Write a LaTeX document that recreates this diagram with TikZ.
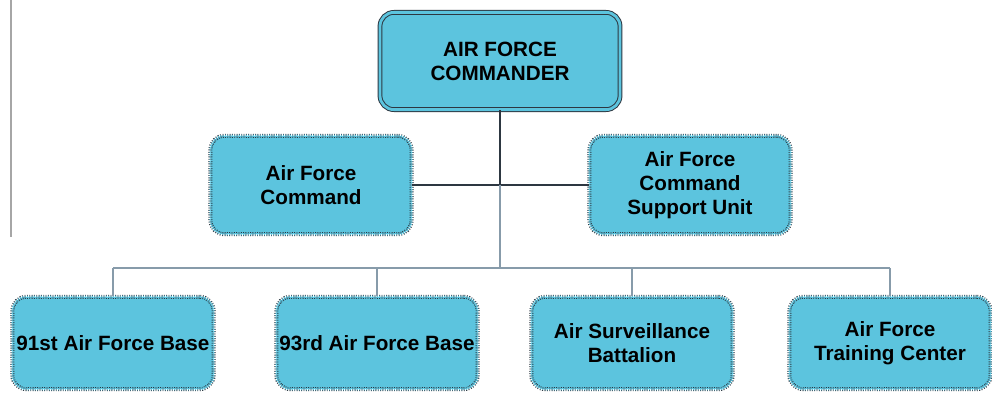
\documentclass[tikz,border=0pt]{standalone}
\usepackage{fontspec}
\setmainfont{Liberation Sans}
\usetikzlibrary{calc}
\definecolor{boxblue}{RGB}{92,196,222}
\definecolor{edgegray}{RGB}{45,55,65}
\definecolor{busgray}{RGB}{135,155,170}

\begin{document}
\begin{tikzpicture}[x=0.025cm,y=-0.025cm,
		unit/.style={draw=edgegray, fill=boxblue, rounded corners=0.35cm,
			densely dotted, line width=0.65pt, double=boxblue, double distance=1.5pt,
			minimum width=5.03cm, minimum height=2.46cm, align=center, inner xsep=2pt,
			font=\bfseries\fontsize{14.7}{17}\selectfont},
		base/.style={unit, minimum height=2.31cm},
		chief/.style={unit, solid, line width=0.7pt, double distance=2pt,
			minimum width=6.0cm, minimum height=2.43cm},
		mainline/.style={edgegray, line width=1.2pt},
		busline/.style={busgray, line width=1pt}]
		\useasboundingbox (0,0) rectangle (992,394);
%		stray margin rule
		\draw[gray!70, line width=1pt] (11,0) -- (11,237);
%		top
		\node[chief] (cmdr) at (500,61) {AIR FORCE\\COMMANDER};
%		second row
		\node[unit] (afc) at (311,185) {Air Force\\Command};
		\node[unit] (afcsu) at (690,185) {Air Force\\Command\\Support Unit};
%		bottom row
		\node[base] (b91) at (113,343) {91st Air Force Base};
		\node[base] (b93) at (377,343) {93rd Air Force Base};
		\node[base] (asb) at (632,343) {Air Surveillance\\Battalion};
		\node[base] (aftc) at (890,343) {Air Force\\Training Center};
		
		\coordinate (bus) at (cmdr.south |- 0,268);
%		connectors
		\draw[mainline] (afc.east) -- (afc.east -| afcsu.west);
		\draw[mainline] (cmdr.south) -- (cmdr.south |- afc.east);
		\draw[busline] (cmdr.south |- afc.east) -- (bus);
		\draw[busline] (b91 |- bus) -- (aftc |- bus);
		\foreach \b in {b91,b93,asb,aftc}
			\draw[busline] (\b |- bus) -- (\b.north);
\end{tikzpicture}
\end{document}
